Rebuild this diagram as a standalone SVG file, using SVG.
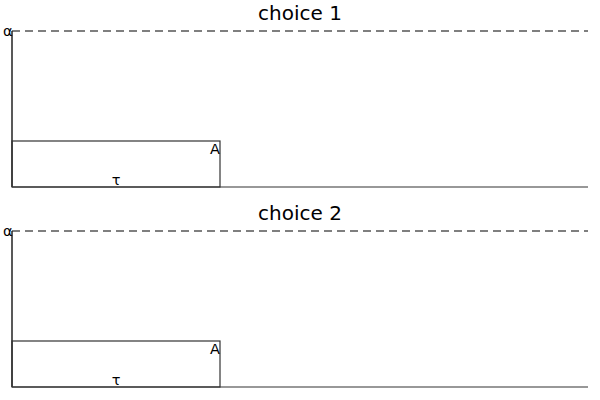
<svg xmlns="http://www.w3.org/2000/svg" width="600" height="400" viewBox="0 0 600 400">
<style>
.t{font-family:"DejaVu Sans",sans-serif;font-size:20px;fill:#000;text-anchor:middle}
.l{font-family:"DejaVu Sans",sans-serif;font-size:14.5px;fill:#000}
.ln{stroke:#333;stroke-width:1.2;fill:none}
.ax{stroke:#222;stroke-width:1.5;fill:none}
.d{stroke:#555;stroke-width:1.5;stroke-dasharray:8,5;fill:none}
</style>
<rect width="600" height="400" fill="#fff"/>
<g id="panel1">
<text class="t" x="300" y="20">choice 1</text>
<g id="connectors1">
<line class="d" x1="12" y1="31" x2="588" y2="31"/>
<line class="ax" x1="12" y1="31" x2="12" y2="187"/>
<line class="ln" x1="12" y1="187" x2="588" y2="187"/>
</g>
<g id="nodeA1">
<rect class="ln" x="12" y="141" width="208" height="46"/>
<text class="l" x="220" y="154" text-anchor="end">A</text>
</g>
<text class="l" x="116" y="185" text-anchor="middle">τ</text>
<text class="l" x="3" y="36">α</text>
</g>
<g id="panel2">
<text class="t" x="300" y="220">choice 2</text>
<g id="connectors2">
<line class="d" x1="12" y1="231" x2="588" y2="231"/>
<line class="ax" x1="12" y1="231" x2="12" y2="387"/>
<line class="ln" x1="12" y1="387" x2="588" y2="387"/>
</g>
<g id="nodeA2">
<rect class="ln" x="12" y="341" width="208" height="46"/>
<text class="l" x="220" y="354" text-anchor="end">A</text>
</g>
<text class="l" x="116" y="385" text-anchor="middle">τ</text>
<text class="l" x="3" y="236">α</text>
</g>
</svg>
